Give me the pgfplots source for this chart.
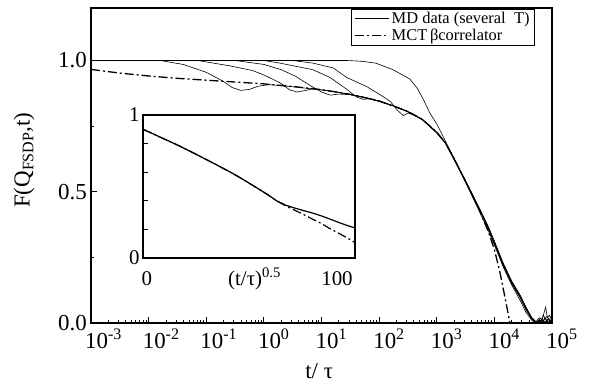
\documentclass[border=0pt]{standalone}
\usepackage{fontspec}
\setmainfont{Liberation Serif}
\usepackage{pgfplots}
\pgfplotsset{compat=1.18}
\begin{document}
\begin{tikzpicture}
\begin{axis}[
  at={(0,0)}, anchor=south west,
  scale only axis, width=461bp, height=315bp,
  xmode=log, xmin=1e-3, xmax=1e5, ymin=0, ymax=1.2,
  axis line style={line width=1.2bp},
  tick align=inside, tick pos=left,
  major tick length=6bp, minor tick length=3.5bp,
  every tick/.style={black, line width=0.8bp},
  xtick={1e-3,1e-2,1e-1,1,1e1,1e2,1e3,1e4,1e5},
  xticklabel={10\textsuperscript{\pgfmathparse{int(round(\tick/2.302585093))}\pgfmathresult}},
  xticklabel style={anchor=north west, inner sep=1bp, xshift=-7bp, yshift=-4.5bp},
  ytick={0,0.5,1.0}, minor ytick={0.25,0.75},
  yticklabel style={inner sep=1bp, xshift=-3bp, /pgf/number format/.cd, fixed, fixed zerofill, precision=1, assume math mode=true},
  tick label style={font=\fontsize{23}{26}\selectfont},
  xlabel={t/ τ},
  ylabel={F(Q\textsubscript{FSDP},t)},
  label style={font=\fontsize{23}{26}\selectfont},
  xlabel style={at={(axis description cs:0.495,0)}, anchor=base, yshift=-55bp},
  ylabel style={at={(axis description cs:-0.145,0.517)}, anchor=center},
  legend style={at={(0.963,0.997)}, anchor=north east, draw=black, line width=0.8bp,
    font=\fontsize{16.5}{19}\selectfont, inner xsep=3bp, inner ysep=1bp, cells={anchor=west}},
  legend image code/.code={\draw[#1] (0bp,0bp) -- (34bp,0bp);},
]
% MD curve A
\addplot[black, line width=0.6bp] table {
0.001 1.0
0.01585 1.0
0.03981 0.985
0.1 0.955
0.1995 0.92
0.2818 0.897
0.3981 0.886
0.5623 0.89
0.7943 0.902
1.259 0.908
1.995 0.904
3.162 0.900
5.623 0.894
10 0.888
17.78 0.880
31.62 0.870
56.23 0.859
100 0.845
177.8 0.827
316.2 0.805
562.3 0.775
1000 0.725
1413 0.685
1995 0.625
2818 0.56
3981 0.49
5623 0.42
7943 0.35
11220 0.27
14125 0.215
19953 0.145
28184 0.085
35481 0.04
44668 0.01
52481 0.0
63096 0.018
75858 0.004
89125 0.014
97724 0.0
};
\addlegendentry{MD data (several\ \ T)}
% MCT beta correlator
\addplot[black, line width=1.3bp, dash pattern=on 9bp off 3bp on 2bp off 3bp] table {
0.001 0.966
0.003162 0.952
0.01 0.941
0.03162 0.932
0.1 0.925
0.3162 0.918
1 0.911
3.162 0.901
10 0.889
31.62 0.871
100 0.846
316.2 0.806
562.3 0.776
1000 0.727
1413 0.687
1995 0.627
2818 0.562
3981 0.495
5623 0.425
7943 0.345
10000 0.28
12589 0.19
15849 0.08
18621 0.0
};
\addlegendentry{MCT\,βcorrelator}
% MD curve B
\addplot[black, line width=0.6bp, forget plot] table {
0.001 1.0
0.0708 1.0
0.2512 0.98
0.631 0.962
1 0.945
1.905 0.915
2.818 0.888
3.802 0.88
5.012 0.885
7.079 0.892
10 0.888
17.78 0.881
31.62 0.871
56.23 0.860
100 0.846
177.8 0.828
316.2 0.806
562.3 0.776
1000 0.727
1413 0.688
1995 0.628
2818 0.563
3981 0.498
5623 0.433
7943 0.365
11220 0.285
14125 0.23
19953 0.16
28184 0.105
35481 0.06
44668 0.02
52481 0.005
63096 0.0
70795 0.03
79433 0.01
89125 0.0
97724 0.012
};
% MD curve C
\addplot[black, line width=0.6bp, forget plot] table {
0.001 1.0
0.3162 1.0
1 0.985
1.995 0.965
3.548 0.94
6.31 0.905
10 0.88
14.13 0.868
19.95 0.872
31.62 0.870
56.23 0.858
100 0.844
177.8 0.826
316.2 0.804
562.3 0.774
1000 0.724
1413 0.684
1995 0.622
2818 0.558
3981 0.492
5623 0.428
7943 0.358
11220 0.278
14125 0.222
19953 0.152
28184 0.097
35481 0.052
44668 0.015
52481 0.002
58884 0.012
66069 0.0
75858 0.02
85114 0.005
97724 0.0
};
% MD curve D
\addplot[black, line width=0.6bp, forget plot] table {
0.001 1.0
1 1.0
1.905 0.99
7.079 0.965
14.13 0.935
27.54 0.89
39.81 0.862
52.48 0.852
70.79 0.855
100 0.845
177.8 0.827
316.2 0.805
562.3 0.776
1000 0.726
1413 0.686
1995 0.626
2818 0.562
3981 0.497
5623 0.432
7943 0.362
11220 0.283
14125 0.228
19953 0.158
28184 0.103
35481 0.058
44668 0.02
52481 0.005
60256 0.0
67608 0.015
77625 0.06
83176 0.02
91201 0.03
97724 0.01
};
% MD curve E
\addplot[black, line width=0.6bp, forget plot] table {
0.001 1.0
3.162 1.0
7.079 0.99
15.85 0.972
27.54 0.935
61.66 0.90
112.2 0.865
154.9 0.845
208.9 0.81
263 0.79
316.2 0.80
398.1 0.792
562.3 0.775
1000 0.725
1413 0.686
1995 0.627
2818 0.562
3981 0.496
5623 0.43
7943 0.36
11220 0.28
14125 0.225
19953 0.155
28184 0.1
35481 0.055
44668 0.018
52481 0.004
60256 0.02
70795 0.008
81283 0.025
97724 0.005
};
% MD curve F
\addplot[black, line width=0.6bp, forget plot] table {
0.001 1.0
27.54 1.0
50.12 0.997
87.1 0.99
173.8 0.965
338.8 0.93
457.1 0.895
575.4 0.855
758.6 0.80
1023 0.755
1514 0.68
1995 0.625
2818 0.56
3981 0.494
5623 0.428
7943 0.356
11220 0.276
14125 0.22
19953 0.15
28184 0.095
35481 0.05
44668 0.014
52481 0.0
63096 0.01
72444 0.0
85114 0.015
97724 0.0
};
\end{axis}
% inset
\begin{axis}[
  at={(52bp,65bp)}, anchor=south west,
  scale only axis, width=212bp, height=143bp,
  xmin=0, xmax=119, ymin=0, ymax=1,
  axis background/.style={fill=white},
  axis line style={line width=1.2bp},
  tick align=inside, tick pos=left,
  major tick length=5bp, minor tick length=5bp,
  every tick/.style={black, line width=0.8bp},
  xtick=\empty, minor xtick={25,50,75,100},
  ytick={0,1}, minor ytick={0.2,0.4,0.6,0.8},
  yticklabel style={font=\fontsize{21}{23}\selectfont, /pgf/number format/assume math mode=true},
  clip mode=individual,
]
\addplot[black, line width=1.2bp] table {
0 0.90
5 0.872
10 0.843
15 0.815
20 0.786
25 0.755
30 0.724
35 0.692
40 0.66
45 0.627
50 0.594
55 0.558
60 0.52
65 0.482
70 0.443
75 0.40
80 0.37
85 0.35
90 0.332
95 0.315
100 0.295
105 0.272
110 0.248
115 0.226
119 0.21
};
\addplot[black, line width=1.2bp, dash pattern=on 9bp off 3bp on 2bp off 3bp] table {
0 0.90
5 0.872
10 0.843
15 0.815
20 0.786
25 0.755
30 0.724
35 0.692
40 0.66
45 0.627
50 0.594
55 0.558
60 0.52
65 0.482
70 0.443
75 0.40
80 0.365
85 0.335
90 0.305
95 0.273
100 0.242
105 0.205
110 0.172
115 0.138
119 0.107
};
\node[anchor=base, font=\fontsize{21}{23}\selectfont] at (axis cs:2.2,0) [yshift=-27bp] {0};
\node[anchor=base, font=\fontsize{21}{23}\selectfont] at (axis cs:108.9,0) [yshift=-27bp] {100};
\node[anchor=base west, font=\fontsize{21}{23}\selectfont, inner sep=0pt] at (axis cs:47.7,0) [yshift=-27bp] {(t/τ)\textsuperscript{0.5}};
\end{axis}
\pgfresetboundingbox
\path[use as bounding box] (-91bp,-61bp) rectangle (502bp,323bp);
\end{tikzpicture}
\end{document}
